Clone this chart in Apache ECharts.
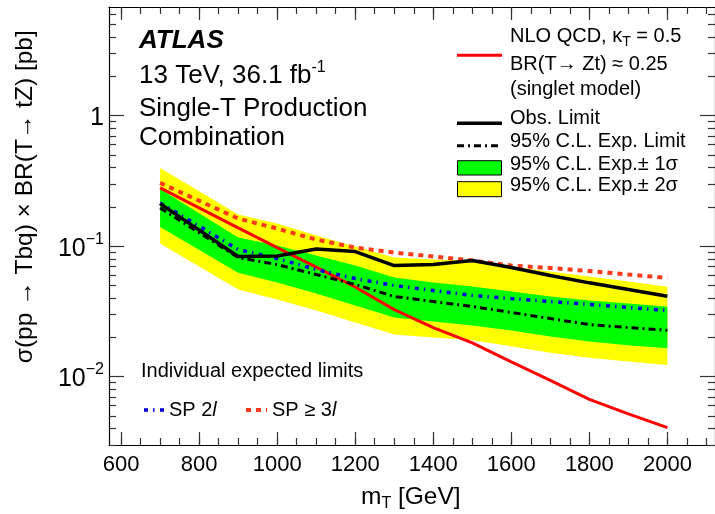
<!DOCTYPE html>
<html>
<head>
<meta charset="utf-8" />
<title>Single-T Production Combination</title>
<script src="https://cdn.jsdelivr.net/npm/echarts@6/dist/echarts.min.js"></script>
<style>
    html, body { margin: 0; padding: 0; background: #fff; }
    #main { width: 715px; height: 514px; }
</style>
</head>
<body>
<div id="main"></div>
<script>
var FONT = '"Liberation Sans", Arial, Helvetica, sans-serif';

// T mass points [GeV]
var mass = [700, 900, 1000, 1100, 1200, 1300, 1400, 1500, 1600, 1700, 1800, 1900, 2000];

// limits on sigma x BR [pb]
var obsLimit = [0.212, 0.0833, 0.0841, 0.0951, 0.0910, 0.0711, 0.0724, 0.0777, 0.0686, 0.0596, 0.0524, 0.0466, 0.0414];
var expLimit = [0.1966, 0.0818, 0.0724, 0.0607, 0.0509, 0.0412, 0.0377, 0.0345, 0.0311, 0.0279, 0.0251, 0.0238, 0.0227];
var exp1Up   = [0.2748, 0.1165, 0.1012, 0.0848, 0.0711, 0.0575, 0.0527, 0.0491, 0.0450, 0.0412, 0.0384, 0.0364, 0.0343];
var exp1Down = [0.1406, 0.0625, 0.0527, 0.0434, 0.0351, 0.0284, 0.0265, 0.0247, 0.0226, 0.0203, 0.0186, 0.0174, 0.0165];
var exp2Up   = [0.3978, 0.1747, 0.1491, 0.1207, 0.0994, 0.0818, 0.0790, 0.0777, 0.0699, 0.0640, 0.0586, 0.0536, 0.0489];
var exp2Down = [0.1048, 0.0466, 0.0391, 0.0322, 0.0260, 0.0211, 0.0200, 0.0190, 0.0171, 0.0153, 0.0140, 0.0131, 0.0123];

// individual expected limits
var sp2l = [0.2147, 0.0943, 0.0804, 0.0663, 0.0565, 0.0500, 0.0458, 0.0419, 0.0397, 0.0377, 0.0358, 0.0339, 0.0322];
var sp3l = [0.3054, 0.1628, 0.1365, 0.1124, 0.0976, 0.0894, 0.0833, 0.0777, 0.0711, 0.0681, 0.0645, 0.0607, 0.0572];

// NLO QCD theory, kappa_T = 0.5
var theoryMass = [700, 800, 900, 1000, 1100, 1200, 1300, 1400, 1500, 1600, 1700, 1800, 1900, 2000];
var theory = [0.2797, 0.1966, 0.1381, 0.0976, 0.0692, 0.0487, 0.0327, 0.0238, 0.0182, 0.0130, 0.00937, 0.00670, 0.00519, 0.00407];

// ticks
var xMajor = [600, 800, 1000, 1200, 1400, 1600, 1800, 2000];
var xMinor = [600, 650, 700, 750, 800, 850, 900, 950, 1000, 1050, 1100, 1150, 1200, 1250, 1300, 1350, 1400,
              1450, 1500, 1550, 1600, 1650, 1700, 1750, 1800, 1850, 1900, 1950, 2000, 2050, 2100];
var yMajor = [0.01, 0.1, 1];
var yMinor = [0.003, 0.004, 0.005, 0.006, 0.007, 0.008, 0.009, 0.02, 0.03, 0.04, 0.05, 0.06, 0.07, 0.08, 0.09,
              0.2, 0.3, 0.4, 0.5, 0.6, 0.7, 0.8, 0.9, 2, 3, 4, 5, 6];

var X_MIN = 569, X_MAX = 2122, Y_MIN = 0.003, Y_MAX = 6.8;

function pairs(xs, ys) {
    return xs.map(function (x, i) { return [x, ys[i]]; });
}

function xAx(pos, vals, len, withLabels, withLine) {
    return {
        type: 'value', position: pos, min: X_MIN, max: X_MAX,
        axisLine: { show: withLine, onZero: false, lineStyle: { color: '#000', width: 1.2 } },
        axisTick: { show: true, inside: true, length: len, customValues: vals, lineStyle: { color: '#333', width: 1.2 } },
        axisLabel: withLabels ? {
            show: true, customValues: vals, fontSize: 22, fontFamily: FONT, color: '#000', margin: 9,
            formatter: function (v) { return String(Math.round(v)); }
        } : { show: false },
        splitLine: { show: false }
    };
}

function yAx(pos, vals, len, withLabels, withLine) {
    return {
        type: 'log', logBase: 10, position: pos, min: Y_MIN, max: Y_MAX,
        axisLine: { show: withLine, onZero: false, lineStyle: { color: '#000', width: 1.2 } },
        axisTick: { show: true, inside: true, length: len, customValues: vals, lineStyle: { color: '#333', width: 1.2 } },
        axisLabel: withLabels ? {
            show: true, customValues: vals, margin: 5, color: '#000',
            formatter: function (v) {
                var e = Math.round(Math.log10(v));
                return e === 0 ? '{b|1}' : '{b|10}{s|\u2212' + (-e) + '}';
            },
            rich: {
                b: { fontSize: 25, fontFamily: FONT, color: '#000', lineHeight: 30, verticalAlign: 'bottom' },
                s: { fontSize: 16, fontFamily: FONT, color: '#000', lineHeight: 16, verticalAlign: 'top' }
            }
        } : { show: false },
        splitLine: { show: false }
    };
}

function band(lo, hi, color) {
    return {
        type: 'custom', silent: true, xAxisIndex: 0, yAxisIndex: 0, z: 1,
        data: [[1000, 0.1]],
        renderItem: function (params, api) {
            var pts = [];
            for (var i = 0; i < mass.length; i++) pts.push(api.coord([mass[i], hi[i]]));
            for (var j = mass.length - 1; j >= 0; j--) pts.push(api.coord([mass[j], lo[j]]));
            return { type: 'polygon', shape: { points: pts }, style: { fill: color, stroke: null } };
        }
    };
}

function line(xs, ys, color, width, dash, z) {
    return {
        type: 'line', data: pairs(xs, ys), symbol: 'none', silent: true, z: z,
        lineStyle: { color: color, width: width, type: dash || 'solid' }
    };
}

var DASH_EXP = [7, 4, 2, 4];
var DASH_SP2 = [4, 5, 1.5, 5.5];
var DASH_SP3 = [5, 5];

// text helpers for the annotations
var measure = document.createElement('canvas').getContext('2d');
function textRun(x, y, parts) {
    var out = [];
    parts.forEach(function (p) {
        var font = (p.italic ? 'italic ' : '') + (p.bold ? 'bold ' : '') + p.size + 'px ' + FONT;
        out.push({
            type: 'text', x: x, y: y + (p.dy || 0), z: 10,
            style: { text: p.t, font: font, fill: '#000', align: 'left', verticalAlign: 'middle',
                     textAlign: 'left', textVerticalAlign: 'middle' }
        });
        measure.font = font;
        x += measure.measureText(p.t).width;
    });
    return out;
}
function sample(x1, x2, y, color, width, dash) {
    return { type: 'line', z: 10, shape: { x1: x1, y1: y, x2: x2, y2: y },
             style: { stroke: color, lineWidth: width, lineDash: dash || null } };
}
function box(x, y, w, h, color) {
    return { type: 'rect', z: 10, shape: { x: x, y: y, width: w, height: h },
             style: { fill: color, stroke: '#000', lineWidth: 1 } };
}

var TS = 26, LS = 20;
var graphics = [].concat(
    textRun(139, 41, [{ t: 'ATLAS', size: TS, bold: true, italic: true }]),
    textRun(139, 76, [{ t: '13 TeV, 36.1 fb', size: TS }, { t: '-1', size: 16, dy: -8 }]),
    textRun(139, 109, [{ t: 'Single-T Production', size: TS }]),
    textRun(139, 138, [{ t: 'Combination', size: TS }]),

    textRun(510, 36.5, [{ t: 'NLO QCD, \u03ba', size: LS }, { t: 'T', size: 14, dy: 6 }, { t: ' = 0.5', size: LS }]),
    textRun(510, 64.7, [{ t: 'BR(T\u2192 Zt) \u2248 0.25', size: LS }]),
    textRun(510, 89, [{ t: '(singlet model)', size: LS }]),
    textRun(510, 118.8, [{ t: 'Obs. Limit', size: LS }]),
    textRun(510, 141.7, [{ t: '95% C.L. Exp. Limit', size: LS }]),
    textRun(510, 164, [{ t: '95% C.L. Exp.\u00b1 1\u03c3', size: LS }]),
    textRun(510, 185.8, [{ t: '95% C.L. Exp.\u00b1 2\u03c3', size: LS }]),

    textRun(141, 371.5, [{ t: 'Individual expected limits', size: LS }]),
    textRun(169, 410, [{ t: 'SP 2', size: LS }, { t: 'l', size: LS, italic: true }]),
    textRun(272, 410, [{ t: 'SP \u2265 3', size: LS }, { t: 'l', size: LS, italic: true }]),

    textRun(361, 497, [{ t: 'm', size: 24.5 }, { t: 'T', size: 16, dy: 7 }, { t: ' [GeV]', size: 24.5 }]),
    [
        sample(457, 502, 55.3, '#ff0000', 3),
        sample(457, 502, 123.3, '#000', 3.5),
        sample(457, 499, 145.7, '#000', 3, DASH_EXP),
        box(457.5, 160.7, 44, 14.3, '#00ff00'),
        box(457.5, 181.7, 44, 15, '#ffff00'),
        sample(144, 166, 410, '#0000dd', 3.5, DASH_SP2),
        sample(246, 267, 410, '#ff3a1a', 4, DASH_SP3),
        {
            type: 'text', x: 25, y: 196.7, rotation: Math.PI / 2, z: 10,
            style: { text: '\u03c3(pp \u2192 Tbq) \u00d7 BR(T\u2192 tZ) [pb]', font: '24.5px ' + FONT, fill: '#000',
                     align: 'center', verticalAlign: 'middle', textAlign: 'center', textVerticalAlign: 'middle' }
        }
    ]
);

var option = {
    animation: false,
    backgroundColor: '#fff',
    grid: { left: 109, top: 7, width: 606, height: 438, containLabel: false },
    xAxis: [
        xAx('bottom', xMajor, 13, true, true),
        xAx('bottom', xMinor, 7, false, false),
        xAx('top', xMajor, 13, false, true),
        xAx('top', xMinor, 7, false, false)
    ],
    yAxis: [
        yAx('left', yMajor, 15, true, true),
        yAx('left', yMinor, 7, false, false),
        yAx('right', yMajor, 15, false, true),
        yAx('right', yMinor, 7, false, false)
    ],
    graphic: graphics,
    series: [
        band(exp2Down, exp2Up, '#ffff00'),
        band(exp1Down, exp1Up, '#00ff00'),
        line(theoryMass, theory, '#ff0000', 3, null, 3),
        line(mass, sp2l, '#0000dd', 3.5, DASH_SP2, 4),
        line(mass, sp3l, '#ff3a1a', 4, DASH_SP3, 4),
        line(mass, expLimit, '#000', 3, DASH_EXP, 5),
        line(mass, obsLimit, '#000', 3.5, null, 6)
    ]
};

var chart = echarts.init(document.getElementById('main'));
chart.setOption(option);
</script>
</body>
</html>
